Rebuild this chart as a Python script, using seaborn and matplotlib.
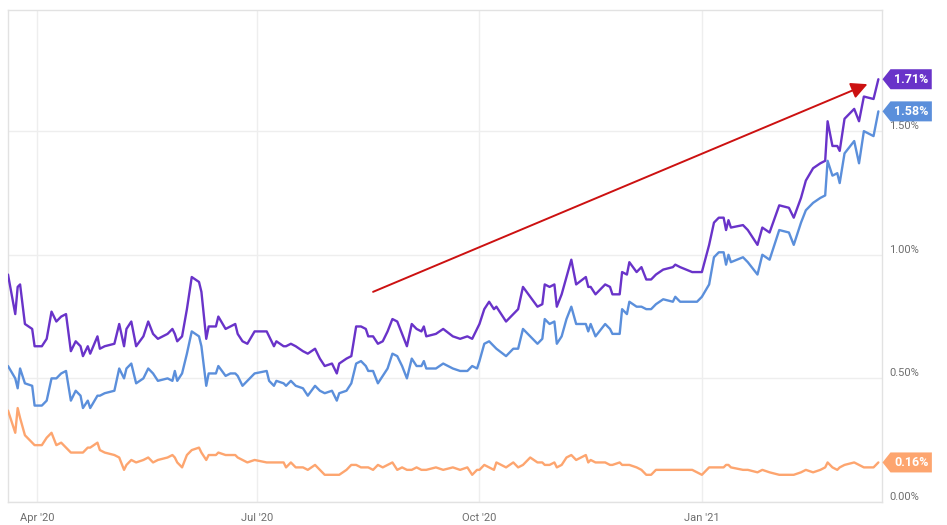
import matplotlib
matplotlib.use("Agg")
import matplotlib.pyplot as plt
import matplotlib.dates as mdates
import matplotlib.transforms as mtransforms
from matplotlib.path import Path
import pandas as pd
import seaborn as sns

# Daily yields (%), Mar 2020 - Mar 2021
dates = [
    "2020-03-20", "2020-03-23", "2020-03-24", "2020-03-25", "2020-03-27", "2020-03-30", "2020-03-31", "2020-04-03", "2020-04-05", "2020-04-07",
    "2020-04-09", "2020-04-11", "2020-04-13", "2020-04-15", "2020-04-17", "2020-04-19", "2020-04-20", "2020-04-22", "2020-04-23", "2020-04-26",
    "2020-04-27", "2020-04-29", "2020-05-03", "2020-05-05", "2020-05-07", "2020-05-08", "2020-05-10", "2020-05-12", "2020-05-15", "2020-05-17",
    "2020-05-19", "2020-05-21", "2020-05-25", "2020-05-27", "2020-05-28", "2020-05-29", "2020-05-31", "2020-06-02", "2020-06-04", "2020-06-07",
    "2020-06-08", "2020-06-10", "2020-06-11", "2020-06-14", "2020-06-15", "2020-06-18", "2020-06-20", "2020-06-22", "2020-06-23", "2020-06-25",
    "2020-06-27", "2020-06-30", "2020-07-05", "2020-07-06", "2020-07-08", "2020-07-09", "2020-07-12", "2020-07-13", "2020-07-15", "2020-07-17",
    "2020-07-20", "2020-07-22", "2020-07-25", "2020-07-27", "2020-07-29", "2020-08-01", "2020-08-03", "2020-08-04", "2020-08-07", "2020-08-09",
    "2020-08-11", "2020-08-13", "2020-08-15", "2020-08-16", "2020-08-18", "2020-08-20", "2020-08-22", "2020-08-24", "2020-08-26", "2020-08-28",
    "2020-08-30", "2020-09-01", "2020-09-03", "2020-09-05", "2020-09-07", "2020-09-08", "2020-09-09", "2020-09-13", "2020-09-16", "2020-09-20",
    "2020-09-23", "2020-09-26", "2020-09-28", "2020-09-30", "2020-10-01", "2020-10-03", "2020-10-05", "2020-10-07", "2020-10-08", "2020-10-12",
    "2020-10-15", "2020-10-17", "2020-10-19", "2020-10-22", "2020-10-25", "2020-10-27", "2020-10-28", "2020-10-30", "2020-11-01", "2020-11-02",
    "2020-11-04", "2020-11-06", "2020-11-08", "2020-11-10", "2020-11-14", "2020-11-15", "2020-11-16", "2020-11-18", "2020-11-22", "2020-11-24",
    "2020-11-25", "2020-11-28", "2020-11-29", "2020-12-01", "2020-12-02", "2020-12-05", "2020-12-07", "2020-12-09", "2020-12-11", "2020-12-13",
    "2020-12-16", "2020-12-20", "2020-12-21", "2020-12-23", "2020-12-28", "2020-12-30", "2021-01-01", "2021-01-04", "2021-01-06", "2021-01-08",
    "2021-01-10", "2021-01-11", "2021-01-12", "2021-01-13", "2021-01-18", "2021-01-20", "2021-01-24", "2021-01-26", "2021-01-29", "2021-02-02",
    "2021-02-06", "2021-02-08", "2021-02-11", "2021-02-13", "2021-02-16", "2021-02-19", "2021-02-21", "2021-02-22", "2021-02-24", "2021-02-26",
    "2021-02-27", "2021-03-01", "2021-03-05", "2021-03-07", "2021-03-09", "2021-03-13", "2021-03-15",
]

long_rate = [
    0.92, 0.76, 0.87, 0.88, 0.72, 0.70, 0.63, 0.63, 0.66, 0.77,
    0.73, 0.75, 0.76, 0.61, 0.65, 0.63, 0.59, 0.63, 0.60, 0.67,
    0.62, 0.63, 0.64, 0.72, 0.63, 0.70, 0.73, 0.63, 0.67, 0.73,
    0.68, 0.66, 0.68, 0.70, 0.68, 0.65, 0.67, 0.78, 0.91, 0.89,
    0.85, 0.66, 0.71, 0.71, 0.75, 0.70, 0.71, 0.72, 0.68, 0.65,
    0.64, 0.69, 0.69, 0.67, 0.63, 0.65, 0.63, 0.63, 0.64, 0.63,
    0.61, 0.60, 0.62, 0.58, 0.55, 0.56, 0.52, 0.56, 0.58, 0.59,
    0.71, 0.71, 0.70, 0.67, 0.67, 0.64, 0.65, 0.69, 0.74, 0.73,
    0.68, 0.63, 0.72, 0.70, 0.69, 0.71, 0.67, 0.68, 0.70, 0.67,
    0.66, 0.67, 0.66, 0.70, 0.72, 0.78, 0.81, 0.78, 0.79, 0.73,
    0.76, 0.78, 0.87, 0.83, 0.79, 0.80, 0.88, 0.87, 0.88, 0.79,
    0.84, 0.91, 0.98, 0.88, 0.91, 0.87, 0.87, 0.84, 0.88, 0.87,
    0.84, 0.84, 0.93, 0.92, 0.97, 0.93, 0.95, 0.90, 0.90, 0.92,
    0.94, 0.95, 0.96, 0.95, 0.93, 0.93, 0.93, 1.04, 1.13, 1.15,
    1.15, 1.10, 1.14, 1.11, 1.12, 1.10, 1.04, 1.11, 1.09, 1.20,
    1.19, 1.15, 1.23, 1.30, 1.35, 1.37, 1.38, 1.54, 1.44, 1.44,
    1.42, 1.55, 1.59, 1.54, 1.64, 1.63, 1.71,
]

mid_rate = [
    0.55, 0.50, 0.46, 0.54, 0.48, 0.47, 0.39, 0.39, 0.41, 0.50,
    0.50, 0.52, 0.53, 0.41, 0.45, 0.43, 0.38, 0.41, 0.38, 0.43,
    0.43, 0.44, 0.45, 0.54, 0.50, 0.54, 0.56, 0.48, 0.50, 0.54,
    0.52, 0.49, 0.50, 0.49, 0.53, 0.49, 0.52, 0.60, 0.69, 0.67,
    0.63, 0.47, 0.52, 0.52, 0.55, 0.51, 0.52, 0.52, 0.51, 0.47,
    0.49, 0.52, 0.53, 0.49, 0.47, 0.49, 0.48, 0.47, 0.49, 0.47,
    0.46, 0.43, 0.47, 0.45, 0.44, 0.45, 0.41, 0.44, 0.45, 0.48,
    0.56, 0.57, 0.55, 0.53, 0.53, 0.48, 0.51, 0.54, 0.60, 0.59,
    0.55, 0.50, 0.58, 0.55, 0.55, 0.57, 0.54, 0.54, 0.56, 0.54,
    0.53, 0.53, 0.55, 0.54, 0.57, 0.64, 0.65, 0.63, 0.62, 0.59,
    0.62, 0.62, 0.70, 0.67, 0.64, 0.66, 0.74, 0.72, 0.73, 0.64,
    0.67, 0.74, 0.79, 0.72, 0.72, 0.69, 0.72, 0.67, 0.72, 0.70,
    0.68, 0.68, 0.78, 0.76, 0.81, 0.79, 0.79, 0.78, 0.78, 0.80,
    0.82, 0.81, 0.83, 0.81, 0.81, 0.81, 0.83, 0.88, 0.99, 1.01,
    1.01, 0.96, 1.00, 0.97, 0.99, 0.97, 0.92, 1.00, 0.98, 1.10,
    1.09, 1.04, 1.13, 1.18, 1.21, 1.23, 1.24, 1.38, 1.32, 1.33,
    1.29, 1.41, 1.46, 1.37, 1.50, 1.48, 1.58,
]

short_rate = [
    0.37, 0.28, 0.38, 0.34, 0.27, 0.24, 0.23, 0.23, 0.26, 0.28,
    0.23, 0.24, 0.22, 0.20, 0.20, 0.20, 0.20, 0.22, 0.22, 0.24,
    0.21, 0.20, 0.19, 0.18, 0.13, 0.15, 0.17, 0.16, 0.17, 0.18,
    0.16, 0.17, 0.18, 0.19, 0.18, 0.16, 0.14, 0.19, 0.21, 0.22,
    0.20, 0.17, 0.19, 0.19, 0.20, 0.19, 0.19, 0.19, 0.18, 0.17,
    0.16, 0.17, 0.16, 0.16, 0.16, 0.16, 0.16, 0.14, 0.16, 0.14,
    0.14, 0.13, 0.15, 0.13, 0.11, 0.11, 0.11, 0.11, 0.13, 0.15,
    0.15, 0.14, 0.14, 0.14, 0.13, 0.15, 0.14, 0.15, 0.16, 0.13,
    0.14, 0.13, 0.13, 0.14, 0.13, 0.13, 0.13, 0.14, 0.13, 0.14,
    0.13, 0.14, 0.11, 0.13, 0.13, 0.15, 0.14, 0.13, 0.16, 0.14,
    0.16, 0.14, 0.15, 0.18, 0.16, 0.16, 0.15, 0.15, 0.16, 0.14,
    0.15, 0.18, 0.19, 0.17, 0.19, 0.16, 0.17, 0.16, 0.16, 0.15,
    0.15, 0.16, 0.15, 0.15, 0.15, 0.14, 0.13, 0.11, 0.11, 0.13,
    0.13, 0.13, 0.13, 0.13, 0.13, 0.12, 0.11, 0.14, 0.14, 0.14,
    0.14, 0.15, 0.15, 0.14, 0.13, 0.13, 0.12, 0.13, 0.12, 0.11,
    0.11, 0.11, 0.12, 0.13, 0.12, 0.13, 0.14, 0.16, 0.14, 0.13,
    0.14, 0.15, 0.16, 0.15, 0.14, 0.14, 0.16,
]

series_names = ["long", "mid", "short"]
series_colors = {"long": "#6933c9", "mid": "#5b8fdb", "short": "#fda56f"}
y_ticks = [0.0, 0.5, 1.0, 1.5]
x_ticks = ["2020-04-01", "2020-07-01", "2020-10-01", "2021-01-01"]

wide = pd.DataFrame({"date": pd.to_datetime(dates), "long": long_rate,
                     "mid": mid_rate, "short": short_rate})
df = wide.melt(id_vars="date", value_vars=series_names,
               var_name="series", value_name="yield")

sns.set_style("white")
plt.rcParams["font.family"] = ["Roboto", "DejaVu Sans"]

fig = plt.figure(figsize=(9.47, 5.25), dpi=100)
ax = fig.add_axes([8 / 947, 23 / 525, 874 / 947, 492 / 525])

sns.lineplot(data=df, x="date", y="yield", hue="series", hue_order=series_names,
             palette=series_colors, linewidth=1.7, legend=False, ax=ax, zorder=3)

ax.set_xlim(pd.Timestamp("2020-03-20"), pd.Timestamp("2021-03-16 12:00"))
ax.set_ylim(0, 1.99)

# Axes styling: light frame, faint grid, labels on the right
for sp in ax.spines.values():
    sp.set_color("#e2e2e2")
    sp.set_linewidth(1.0)
ax.set_xlabel("")
ax.set_ylabel("")
ax.set_xticks(pd.to_datetime(x_ticks))
ax.xaxis.set_major_formatter(mdates.DateFormatter("%b '%y"))
ax.set_yticks(y_ticks)
ax.set_yticklabels([f"{v:.2f}%" for v in y_ticks])
ax.yaxis.tick_right()
ax.tick_params(axis="both", length=0, colors="#6e6e6e", labelsize=8)
ax.tick_params(axis="y", pad=5)
ax.tick_params(axis="x", pad=8)
for lbl in ax.get_yticklabels():
    lbl.set_verticalalignment("bottom")
ax.grid(True, color="#eeeeee", linewidth=1.0)
ax.set_axisbelow(True)

# Trend arrow
ax.annotate("", xy=(pd.Timestamp("2021-03-10 12:00"), 1.69),
            xytext=(pd.Timestamp("2020-08-18"), 0.85),
            arrowprops=dict(arrowstyle="-|>,head_length=0.7,head_width=0.35",
                            color="#cc1111", lw=1.4, mutation_scale=14,
                            shrinkA=0, shrinkB=0),
            zorder=5)


def tag_box(x0, y0, width, height, mutation_size):
    pad = mutation_size * 0.28
    x0, y0 = x0 - pad, y0 - pad
    x1, y1 = x0 + width + 2 * pad, y0 + height + 2 * pad
    tip = (y1 - y0) * 0.4
    return Path([(x0, y0), (x1, y0), (x1, y1), (x0, y1),
                 (x0 - tip, (y0 + y1) / 2), (x0, y0)], closed=True)


# Last-value tags at the right edge
edge = mtransforms.blended_transform_factory(ax.transAxes, ax.transData)
for name, values in zip(series_names, [long_rate, mid_rate, short_rate]):
    last = values[-1]
    ax.annotate(f"{last:.2f}%", xy=(1.0, last), xycoords=edge,
                xytext=(12, 0), textcoords="offset pixels",
                ha="left", va="center", color="white", fontsize=9,
                fontweight="bold", annotation_clip=False, zorder=6,
                bbox=dict(boxstyle=tag_box, fc=series_colors[name], ec="none"))

fig.savefig("out.png", dpi=100)
